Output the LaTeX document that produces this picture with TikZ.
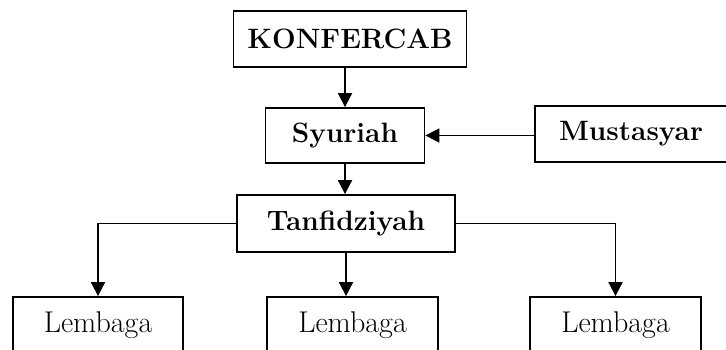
\documentclass[tikz,border=0pt]{standalone}
\usepackage{tikz}
\usetikzlibrary{arrows.meta}

\tikzset{
  unitbox/.style={draw,line width=0.9pt,minimum height=28pt,inner sep=0pt,font=\fontsize{15}{17}\selectfont},
  headbox/.style={unitbox,font=\fontsize{14}{16}\selectfont\bfseries},
  link/.style={line width=0.9pt,-{Triangle[width=7pt,length=7pt]}}
}

\begin{document}
\begin{tikzpicture}[x=0.5pt,y=0.5pt]
  \useasboundingbox (0,0) rectangle (726,349);
  \clip (0,0) rectangle (726,349);
  % top of the structure
  \node[headbox,minimum width=116.5pt] (konfercab) at (350,310) {KONFERCAB};
  \node[headbox,minimum width=79.5pt,minimum height=27.5pt] (syuriah) at (345,213.5) {Syuriah};
  \node[headbox,minimum width=96pt] (mustasyar) at (631,215) {Mustasyar};
  \node[headbox,minimum width=109pt,minimum height=28.5pt] (tanfidziyah) at (346,125.5) {Tanfidziyah};
  % lembaga
  \node[unitbox,minimum width=85pt] (lembagaA) at (98,24) {Lembaga};
  \node[unitbox,minimum width=85.5pt] (lembagaB) at (352.5,24) {Lembaga};
  \node[unitbox,minimum width=85.5pt] (lembagaC) at (615.5,24) {Lembaga};
  % connectors
  \draw[link] (syuriah |- konfercab.south) -- (syuriah.north);
  \draw[link] (mustasyar.west |- syuriah.east) -- (syuriah.east);
  \draw[link] (syuriah.south) -- (syuriah.south |- tanfidziyah.north);
  \draw[link] (tanfidziyah.west) -| (lembagaA.north);
  \draw[link] (tanfidziyah.south) -- (tanfidziyah.south |- lembagaB.north);
  \draw[link] (tanfidziyah.east) -| (lembagaC.north);
\end{tikzpicture}
\end{document}
